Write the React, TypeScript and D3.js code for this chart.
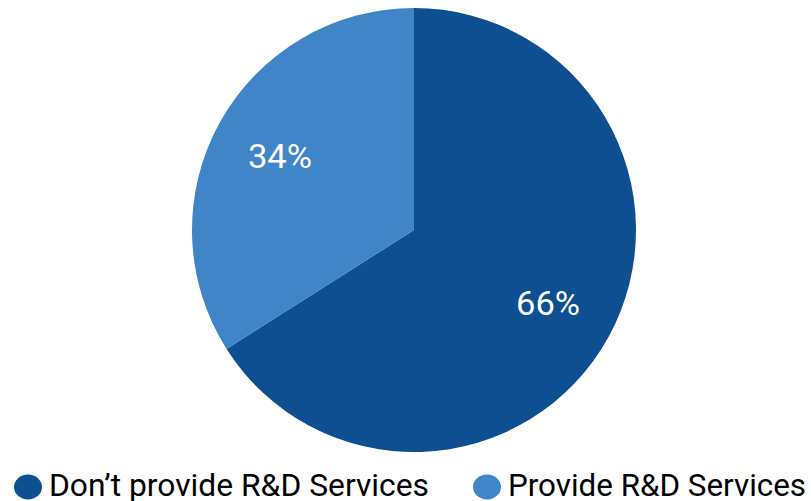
import React from "react";
import * as d3 from "d3";

const categories = ["Don’t provide R&D Services", "Provide R&D Services"];
const values = [66, 34];
const colors = ["#0d4f91", "#3f85c8"];

export default function App() {
  const W = 811, H = 501;
  const cx = 414, cy = 230, R = 222;
  const pie = d3.pie<number>().sort(null).startAngle(0).endAngle(2 * Math.PI)(values);
  const arc = d3.arc<d3.PieArcDatum<number>>().innerRadius(0).outerRadius(R);
  const labelArc = d3.arc<d3.PieArcDatum<number>>().innerRadius(153 * 2 - R).outerRadius(R);
  const legendX = [28, 487];
  const legendLen = [380, 298];
  return (
    <svg width={W} height={H} style={{ position: "absolute", left: 0, top: 0, fontFamily: "Roboto" }}>
      <g transform={`translate(${cx},${cy})`}>
        {pie.map((p, i) => (
          <path key={i} d={arc(p) || ""} fill={colors[i]} />
        ))}
        {pie.map((p, i) => {
          const [x, y] = labelArc.centroid(p);
          return (
            <text key={i} x={x} y={y} dy="0.34em" textAnchor="middle" fill="#fff" fontSize={33}
              textLength={64} lengthAdjust="spacingAndGlyphs">
              {values[i]}%
            </text>
          );
        })}
      </g>
      {categories.map((c, i) => (
        <g key={i} transform={`translate(${legendX[i]},487)`}>
          <ellipse rx={14} ry={12.5} fill={colors[i]} />
          <text x={21} y={9} fontSize={31} fill="#000" textLength={legendLen[i]} lengthAdjust="spacingAndGlyphs">{c}</text>
        </g>
      ))}
    </svg>
  );
}
